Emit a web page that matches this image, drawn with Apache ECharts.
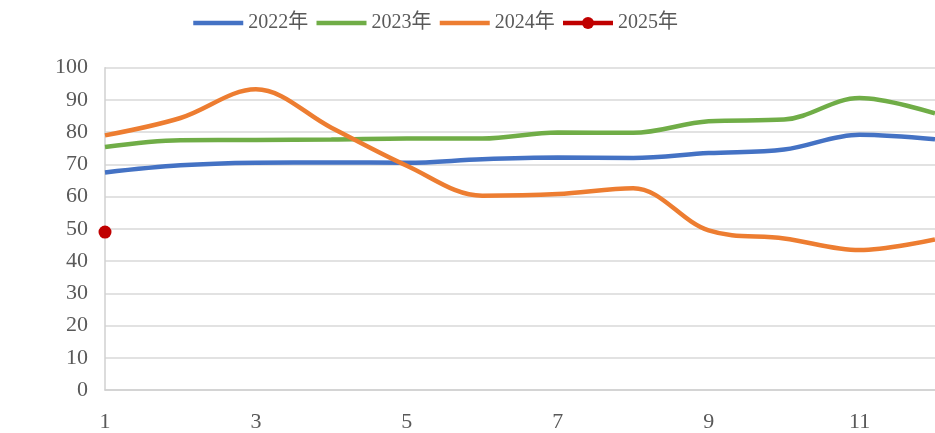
<!DOCTYPE html>
<html><head><meta charset="utf-8">
<script src="https://cdn.jsdelivr.net/npm/echarts@6/dist/echarts.min.js"></script>
<style>html,body{margin:0;padding:0;background:#fff}#c{width:935px;height:433px}</style>
</head><body><div id="c"></div>
<script>
const months = ['1','2','3','4','5','6','7','8','9','10','11','12'];
const seriesNames = ['2022年','2023年','2024年','2025年'];
const v2022 = [67.5, 69.7, 70.5, 70.6, 70.5, 71.6, 72.1, 72.0, 73.5, 74.6, 79.2, 77.8];
const v2023 = [75.4, 77.5, 77.6, 77.7, 78.0, 78.0, 79.9, 79.8, 83.4, 83.9, 90.6, 85.8];
const v2024 = [79.0, 84.4, 93.3, 81.4, 69.6, 60.3, 60.8, 62.6, 49.5, 47.0, 43.4, 46.7];
const v2025 = [49.0, null, null, null, null, null, null, null, null, null, null, null];
const yTicks = {min: 0, max: 100, interval: 10};

const colors = ['#4472C4', '#70AD47', '#ED7D31', '#C00000'];
const font = '"Liberation Serif", "Noto Sans CJK SC", serif';
const chart = echarts.init(document.getElementById('c'));
function line(name, data, color) {
  return {name, type: 'line', data, smooth: 0.35, symbol: 'none',
    lineStyle: {color, width: 4.5}, itemStyle: {color}};
}
chart.setOption({
  animation: false,
  textStyle: {fontFamily: font},
  legend: {
    top: 8, left: 186, itemWidth: 50, itemHeight: 15, itemGap: 6,
    lineStyle: {width: 4.5},
    textStyle: {fontFamily: font, fontSize: 20, color: '#595959'},
    data: [
      {name: seriesNames[0], itemStyle: {opacity: 0}},
      {name: seriesNames[1], itemStyle: {opacity: 0}},
      {name: seriesNames[2], itemStyle: {opacity: 0}},
      {name: seriesNames[3]}
    ]
  },
  grid: {left: 105, right: -3.5, top: 67.7, bottom: 40.3},
  xAxis: {
    type: 'category', data: months, boundaryGap: false,
    axisLine: {lineStyle: {color: '#d0d0d0', width: 1.5}},
    axisTick: {show: false},
    axisLabel: {interval: 1, margin: 21, fontSize: 22, color: '#595959', fontFamily: font}
  },
  yAxis: {
    type: 'value', min: yTicks.min, max: yTicks.max, interval: yTicks.interval,
    axisLine: {show: true, lineStyle: {color: '#d0d0d0', width: 1.5}},
    axisTick: {show: false},
    splitLine: {lineStyle: {color: '#d9d9d9', width: 1.5}},
    axisLabel: {margin: 17, fontSize: 22, color: '#595959', fontFamily: font}
  },
  series: [
    line(seriesNames[0], v2022, colors[0]),
    line(seriesNames[1], v2023, colors[1]),
    line(seriesNames[2], v2024, colors[2]),
    {name: seriesNames[3], type: 'line', data: v2025, symbol: 'circle', symbolSize: 13,
      showSymbol: true, lineStyle: {color: colors[3], width: 4.5}, itemStyle: {color: colors[3]}}
  ]
});
</script></body></html>
